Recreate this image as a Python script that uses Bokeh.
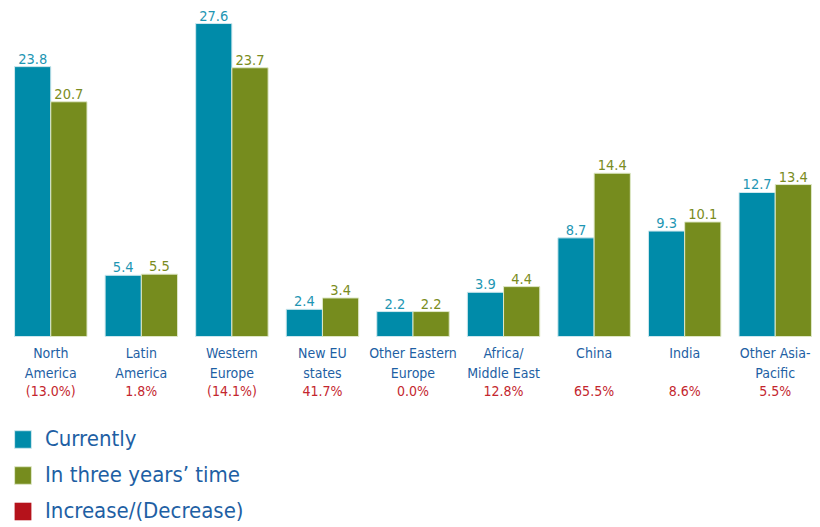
from bokeh.plotting import figure
from bokeh.models import ColumnDataSource, Range1d, FactorRange, Legend, LegendItem
from bokeh.transform import dodge
from bokeh.core.properties import value
from bokeh.embed import file_html
from bokeh.resources import INLINE

regions = ["North America", "Latin America", "Western Europe", "New EU states",
           "Other Eastern Europe", "Africa/Middle East", "China", "India", "Other Asia-Pacific"]
region_labels = ["North\nAmerica", "Latin\nAmerica", "Western\nEurope", "New EU\nstates",
                 "Other Eastern\nEurope", "Africa/\nMiddle East", "China", "India", "Other Asia-\nPacific"]
currently = [23.8, 5.4, 27.6, 2.4, 2.2, 3.9, 8.7, 9.3, 12.7]
three_years = [20.7, 5.5, 23.7, 3.4, 2.2, 4.4, 14.4, 10.1, 13.4]
change = ["(13.0%)", "1.8%", "(14.1%)", "41.7%", "0.0%", "12.8%", "65.5%", "8.6%", "5.5%"]

BLUE = "#008BA9"
GREEN = "#768C1E"
RED = "#B5121B"
FONT = "'DejaVu Sans Condensed', 'Liberation Sans Narrow', Roboto, sans-serif"

src = ColumnDataSource(dict(
    region=regions, label=region_labels, cur=currently, fut=three_years, chg=change,
    cur_txt=["%.1f" % v for v in currently], fut_txt=["%.1f" % v for v in three_years],
    zero=[0] * len(regions),
))

p = figure(width=820, height=527, output_backend="svg", toolbar_location=None,
           x_range=FactorRange(*regions, range_padding=0),
           y_range=Range1d(-16.84, 29.63),
           min_border_left=5, min_border_right=0, min_border_top=0, min_border_bottom=0)
p.axis.visible = False
p.grid.visible = False
p.outline_line_color = None
p.background_fill_color = "white"

r_cur = p.vbar(x=dodge("region", -0.2, range=p.x_range), top="cur", width=0.4, source=src,
               fill_color=BLUE, line_color="#cfe8ee", line_width=1)
r_fut = p.vbar(x=dodge("region", 0.2, range=p.x_range), top="fut", width=0.4, source=src,
               fill_color=GREEN, line_color="#dfe8c8", line_width=1)

p.text(x=dodge("region", -0.2, range=p.x_range), y="cur", text="cur_txt", source=src,
       text_align="center", text_baseline="bottom", y_offset=-3,
       text_font=value(FONT), text_font_size="14.5px", text_color="#1E96B3")
p.text(x=dodge("region", 0.2, range=p.x_range), y="fut", text="fut_txt", source=src,
       text_align="center", text_baseline="bottom", y_offset=-3,
       text_font=value(FONT), text_font_size="14.5px", text_color="#7A8C22")

p.text(x="region", y="zero", text="label", source=src, text_align="center",
       text_baseline="top", y_offset=8, text_line_height=1.3,
       text_font=value(FONT), text_font_size="14px", text_color="#1E5FA4")
p.text(x="region", y="zero", text="chg", source=src, text_align="center",
       text_baseline="top", y_offset=46,
       text_font=value(FONT), text_font_size="14px", text_color="#C4262E")

red_src = ColumnDataSource(dict(x=[regions[0]], top=[0]))
r_red = p.vbar(x="x", top="top", width=0.01, source=red_src,
               fill_color=RED, line_color=None)

legend = Legend(items=[LegendItem(label="Currently", renderers=[r_cur]),
                       LegendItem(label="In three years\u2019 time", renderers=[r_fut]),
                       LegendItem(label="Increase/(Decrease)", renderers=[r_red])],
                location=(7, 4), orientation="vertical",
                glyph_width=21, glyph_height=22, label_height=22, spacing=11,
                label_standoff=12, padding=0, margin=0,
                label_text_font=FONT, label_text_font_size="22px", label_text_color="#1E5FA4",
                background_fill_alpha=0, border_line_color=None)
p.add_layout(legend, "center")

open("out.html", "w").write(file_html(p, INLINE))
